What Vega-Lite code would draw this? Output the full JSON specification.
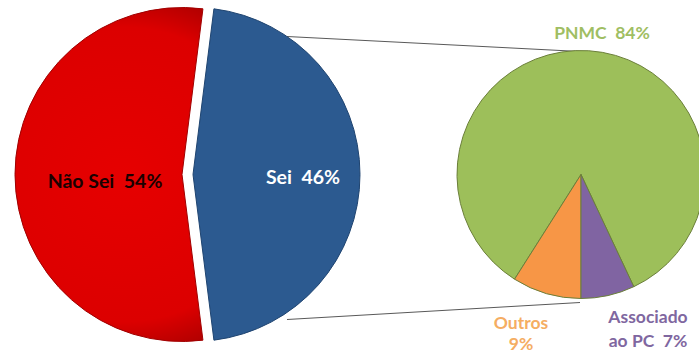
{
  "$schema": "https://vega.github.io/schema/vega-lite/v6.json",
  "width": 699,
  "height": 352,
  "autosize": {"type": "fit", "contains": "padding"},
  "padding": 0,
  "background": "#ffffff",
  "config": {"view": {"stroke": null}, "text": {"font": "Lato", "fontWeight": "bold", "fontSize": 17.5}},
  "data": {
    "values": [
      {"grafico": "Geral", "categoria": "Não Sei", "valor": 54},
      {"grafico": "Geral", "categoria": "Sei", "valor": 46},
      {"grafico": "Sei", "categoria": "PNMC", "valor": 84},
      {"grafico": "Sei", "categoria": "Outros", "valor": 9},
      {"grafico": "Sei", "categoria": "Associado ao PC", "valor": 7}
    ]
  },
  "encoding": {
    "x": {"field": "grafico", "type": "nominal", "scale": {"type": "point", "domain": ["Geral", "Sei"], "range": [182, 581], "padding": 0}, "axis": null}
  },
  "layer": [
    {
      "data": {"values": [{"ligacao": "superior"}]},
      "mark": {"type": "rule", "color": "#595959", "strokeWidth": 1, "xOffset": 105, "x2Offset": -1, "yOffset": -138, "y2Offset": -123},
      "encoding": {
        "x": {"datum": "Geral"}, "x2": {"datum": "Sei"},
        "y": {"datum": 0, "type": "quantitative", "scale": {"domain": [-1, 1]}, "axis": null}, "y2": {"datum": 0}
      }
    },
    {
      "data": {"values": [{"ligacao": "inferior"}]},
      "mark": {"type": "rule", "color": "#595959", "strokeWidth": 1, "xOffset": 105, "x2Offset": -1, "yOffset": 145, "y2Offset": 128},
      "encoding": {
        "x": {"datum": "Geral"}, "x2": {"datum": "Sei"},
        "y": {"datum": 0, "type": "quantitative", "scale": {"domain": [-1, 1]}, "axis": null}, "y2": {"datum": 0}
      }
    },
    {
      "transform": [{"filter": "datum.grafico === 'Geral'"}],
      "mark": {"type": "arc", "outerRadius": 167, "stroke": "#a00000", "strokeWidth": 1,
        "fill": {"gradient": "radial", "x1": 0.55, "y1": 0.5, "x2": 0.55, "y2": 0.5, "r1": 0, "r2": 0.55,
          "stops": [{"offset": 0, "color": "#e60000"}, {"offset": 0.8, "color": "#dc0000"}, {"offset": 1, "color": "#b00000"}]}},
      "encoding": {
        "theta": {"field": "valor", "type": "quantitative", "stack": true, "scale": {"range": [3.01593, 9.29911]}},
        "order": {"field": "categoria", "sort": "ascending"},
        "opacity": {"condition": {"test": "datum.categoria === 'Não Sei'", "value": 1}, "value": 0}
      }
    },
    {
      "transform": [{"filter": "datum.grafico === 'Geral'"}],
      "mark": {"type": "arc", "outerRadius": 167, "xOffset": 11, "stroke": "#1f4470", "strokeWidth": 1},
      "encoding": {
        "theta": {"field": "valor", "type": "quantitative", "stack": true, "scale": {"range": [3.01593, 9.29911]}},
        "order": {"field": "categoria", "sort": "ascending"},
        "color": {"field": "categoria", "type": "nominal", "legend": null,
          "scale": {"domain": ["Não Sei", "Sei", "PNMC", "Outros", "Associado ao PC"], "range": ["#dd0000", "#2c5a90", "#9dbf5a", "#f79646", "#8064a2"]}},
        "opacity": {"condition": {"test": "datum.categoria === 'Sei'", "value": 1}, "value": 0}
      }
    },
    {
      "transform": [{"filter": "datum.grafico === 'Sei'"}],
      "mark": {"type": "arc", "outerRadius": 124, "stroke": "#6b7f3a", "strokeWidth": 1},
      "encoding": {
        "theta": {"field": "valor", "type": "quantitative", "stack": true, "scale": {"range": [2.70177, 8.98495]}},
        "order": {"field": "categoria", "sort": "ascending"},
        "color": {"field": "categoria", "type": "nominal", "legend": null}
      }
    },
    {
      "transform": [{"filter": "datum.categoria === 'Não Sei'"}, {"calculate": "datum.categoria + ' \u00a0' + datum.valor + '%'", "as": "rotulo"}],
      "mark": {"type": "text", "color": "#1a0000", "dx": -77, "dy": 7, "fontSize": 19.5},
      "encoding": {"text": {"field": "rotulo"}}
    },
    {
      "transform": [{"filter": "datum.categoria === 'Sei'"}, {"calculate": "datum.categoria + ' \u00a0' + datum.valor + '%'", "as": "rotulo"}],
      "mark": {"type": "text", "color": "#ffffff", "dx": 121, "dy": 3, "fontSize": 19.5},
      "encoding": {"text": {"field": "rotulo"}}
    },
    {
      "transform": [{"filter": "datum.categoria === 'PNMC'"}, {"calculate": "datum.categoria + ' \u00a0' + datum.valor + '%'", "as": "rotulo"}],
      "mark": {"type": "text", "color": "#9fbe63", "dx": 21, "dy": -141},
      "encoding": {"text": {"field": "rotulo"}}
    },
    {
      "transform": [{"filter": "datum.categoria === 'Outros'"}, {"calculate": "datum.categoria + '\\n' + datum.valor + '%'", "as": "rotulo"}],
      "mark": {"type": "text", "color": "#f5ad62", "dx": -60, "dy": 149, "lineBreak": "\n", "lineHeight": 21, "baseline": "middle"},
      "encoding": {"text": {"field": "rotulo"}}
    },
    {
      "transform": [{"filter": "datum.categoria === 'Associado ao PC'"}, {"calculate": "replace(datum.categoria, ' ao', '\\nao') + ' \u00a0' + datum.valor + '%'", "as": "rotulo"}],
      "mark": {"type": "text", "color": "#7f67a0", "dx": 67, "dy": 143, "lineBreak": "\n", "lineHeight": 24, "baseline": "middle"},
      "encoding": {"text": {"field": "rotulo"}}
    }
  ],
  "resolve": {"scale": {"theta": "independent"}}
}
